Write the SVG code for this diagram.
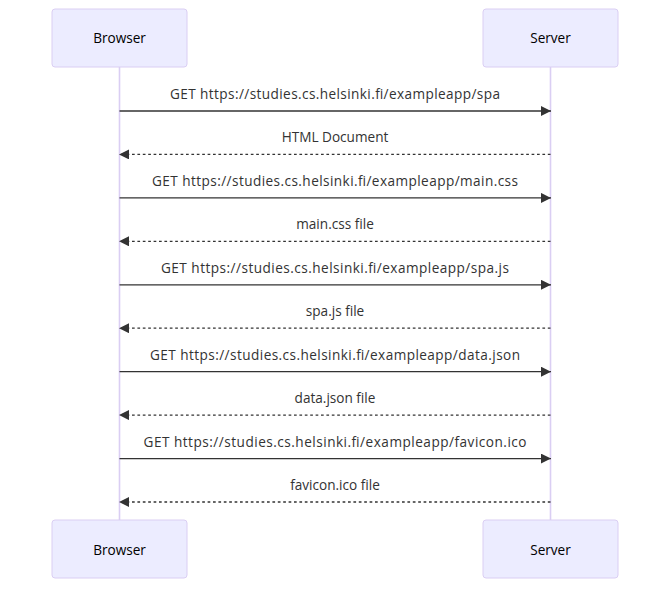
<svg xmlns="http://www.w3.org/2000/svg" width="670" height="589" viewBox="0 0 670 589">
<style>
.actor{fill:#ECECFF;stroke:#dacef3;stroke-width:1}
.lifeline{stroke:#dacef3;stroke-width:1.6;fill:none}
.atext{font-family:"Open Sans","Noto Sans",sans-serif;font-size:13.6px;fill:#000;text-anchor:middle}
.mtext{font-family:"Open Sans","Noto Sans",sans-serif;font-size:13.6px;fill:#333;text-anchor:middle}
.msg{stroke:#333;stroke-width:1.3;fill:none}
.dash{stroke-dasharray:2.7,2.7}
</style>
<defs>
<marker id="ah" viewBox="0 0 10 10" refX="10" refY="5" markerUnits="userSpaceOnUse" markerWidth="10" markerHeight="10" orient="auto">
<path d="M0,0 L10,5 L0,10 z" fill="#333"/>
</marker>
</defs>
<rect width="670" height="589" fill="#fff"/>
<g id="lifelines">
<line class="lifeline" x1="119.5" y1="67" x2="119.5" y2="520"/>
<line class="lifeline" x1="550.5" y1="67" x2="550.5" y2="520"/>
</g>
<g id="browser-top"><rect class="actor" x="52" y="9" width="135" height="58" rx="3"/><text class="atext" x="119.5" y="43">Browser</text></g>
<g id="server-top"><rect class="actor" x="483" y="9" width="135" height="58" rx="3"/><text class="atext" x="550.5" y="43">Server</text></g>
<g id="browser-bottom"><rect class="actor" x="52" y="520" width="135" height="58" rx="3"/><text class="atext" x="119.5" y="555">Browser</text></g>
<g id="server-bottom"><rect class="actor" x="483" y="520" width="135" height="58" rx="3"/><text class="atext" x="550.5" y="555">Server</text></g>
<g id="connectors">
<line class="msg" x1="119.5" y1="111" x2="551" y2="111" marker-end="url(#ah)"/>
<line class="msg dash" x1="550.5" y1="154.4" x2="119" y2="154.4" marker-end="url(#ah)"/>
<line class="msg" x1="119.5" y1="197.9" x2="551" y2="197.9" marker-end="url(#ah)"/>
<line class="msg dash" x1="550.5" y1="241.3" x2="119" y2="241.3" marker-end="url(#ah)"/>
<line class="msg" x1="119.5" y1="284.8" x2="551" y2="284.8" marker-end="url(#ah)"/>
<line class="msg dash" x1="550.5" y1="328.2" x2="119" y2="328.2" marker-end="url(#ah)"/>
<line class="msg" x1="119.5" y1="371.7" x2="551" y2="371.7" marker-end="url(#ah)"/>
<line class="msg dash" x1="550.5" y1="415.1" x2="119" y2="415.1" marker-end="url(#ah)"/>
<line class="msg" x1="119.5" y1="458.6" x2="551" y2="458.6" marker-end="url(#ah)"/>
<line class="msg dash" x1="550.5" y1="502" x2="119" y2="502" marker-end="url(#ah)"/>
</g>
<g id="labels">
<text class="mtext" x="335" y="99" textLength="330" lengthAdjust="spacing">GET https://studies.cs.helsinki.fi/exampleapp/spa</text>
<text class="mtext" x="335" y="142.4">HTML Document</text>
<text class="mtext" x="335" y="185.9" textLength="366" lengthAdjust="spacing">GET https://studies.cs.helsinki.fi/exampleapp/main.css</text>
<text class="mtext" x="335" y="229.3">main.css file</text>
<text class="mtext" x="335" y="272.8" textLength="348" lengthAdjust="spacing">GET https://studies.cs.helsinki.fi/exampleapp/spa.js</text>
<text class="mtext" x="335" y="316.2">spa.js file</text>
<text class="mtext" x="335" y="359.7" textLength="370" lengthAdjust="spacing">GET https://studies.cs.helsinki.fi/exampleapp/data.json</text>
<text class="mtext" x="335" y="403.1">data.json file</text>
<text class="mtext" x="335" y="446.6" textLength="383" lengthAdjust="spacing">GET https://studies.cs.helsinki.fi/exampleapp/favicon.ico</text>
<text class="mtext" x="335" y="490">favicon.ico file</text>
</g>
</svg>
